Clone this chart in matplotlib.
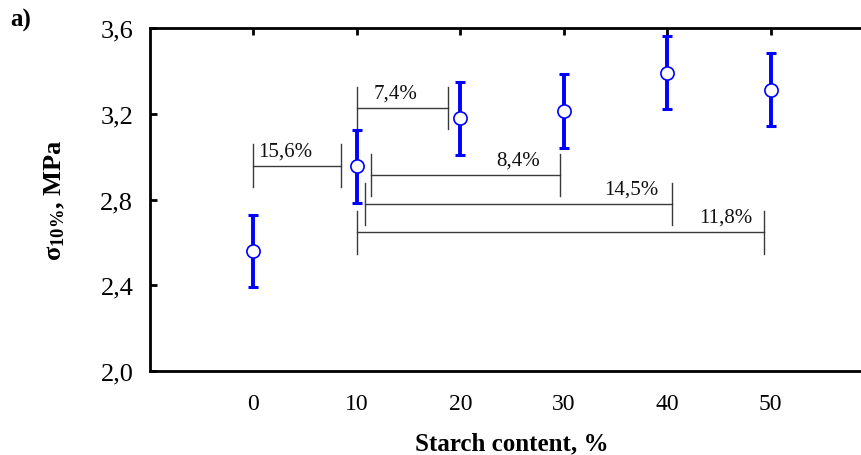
import matplotlib.pyplot as plt
import numpy as np

plt.rcParams["font.family"] = ["Liberation Serif", "DejaVu Serif"]
plt.rcParams["mathtext.fontset"] = "custom"
plt.rcParams["mathtext.rm"] = "Liberation Serif:bold"
plt.rcParams["mathtext.bf"] = "Liberation Serif:bold"
plt.rcParams["mathtext.it"] = "Liberation Serif:bold"

# measured data
starch = [0, 10, 20, 30, 40, 50]
sigma = [2.56, 2.956, 3.179, 3.212, 3.392, 3.312]
sigma_err = [0.17, 0.17, 0.17, 0.172, 0.171, 0.17]

# significance brackets: (x_left, x_right, y_level, label, label_x, label_align)
bracket_x0 = [0.0, 10.0, 11.4, 10.8, 10.0]
bracket_x1 = [8.5, 18.8, 29.6, 40.5, 49.4]
bracket_y = [2.958, 3.227, 2.914, 2.779, 2.648]
bracket_labels = ["15,6%", "7,4%", "8,4%", "14,5%", "11,8%"]
label_x = [0.5, 11.6, 27.7, 39.2, 48.2]
label_ha = ["left", "left", "right", "right", "right"]

fig = plt.figure(figsize=(8.61, 4.56), dpi=100)
ax = fig.add_axes([150 / 861, 1 - 372 / 456, (874 - 150) / 861, (372 - 29) / 456])

ax.errorbar(starch, sigma, yerr=sigma_err, fmt="none", ecolor="#0000ff",
            elinewidth=2.8, capsize=3.6, capthick=2.2, zorder=3)
ax.plot(starch, sigma, linestyle="none", marker="o", markersize=9.5,
        markerfacecolor="white", markeredgecolor="#0000ff", markeredgewidth=1.2, zorder=4)

half = 0.1
for x0, x1, y, lab, lx, ha in zip(bracket_x0, bracket_x1, bracket_y, bracket_labels, label_x, label_ha):
    ax.plot([x0, x1], [y, y], color="#3a3a3a", lw=1.0, zorder=2)
    ax.plot([x0, x0], [y - half, y + half], color="#3a3a3a", lw=1.0, zorder=2)
    ax.plot([x1, x1], [y - half, y + half], color="#3a3a3a", lw=1.0, zorder=2)
    ax.text(lx, y + 0.025, lab, ha=ha, va="bottom", fontsize=15, color="#111111")

ax.set_xlim(-10, 60)
ax.set_ylim(2.0, 3.6)
ax.set_xticks(starch)
ax.set_xticklabels([str(v) for v in starch])
yt = [2.0, 2.4, 2.8, 3.2, 3.6]
ax.set_yticks(yt)
ax.set_yticklabels([f"{v:.1f}".replace(".", ",") for v in yt])

ax.tick_params(axis="x", bottom=False, top=True, labelbottom=True, direction="in",
               length=5, width=2, labelsize=17, pad=16)
ax.tick_params(axis="y", direction="in", length=5, width=2, labelsize=19, pad=12)

for side in ["left", "top", "bottom"]:
    ax.spines[side].set_linewidth(2)
    ax.spines[side].set_color("black")
ax.spines["right"].set_visible(False)

ax.set_xlabel("Starch content, %", fontsize=18, fontweight="bold", labelpad=12)
ax.set_ylabel(r"σ$_{10\%}$, MPa", fontsize=19, fontweight="bold", labelpad=24)

fig.text(10 / 861, 1 - 20 / 456, "a)", fontsize=18, fontweight="bold", ha="left", va="center")

fig.savefig("out.png", dpi=100)
